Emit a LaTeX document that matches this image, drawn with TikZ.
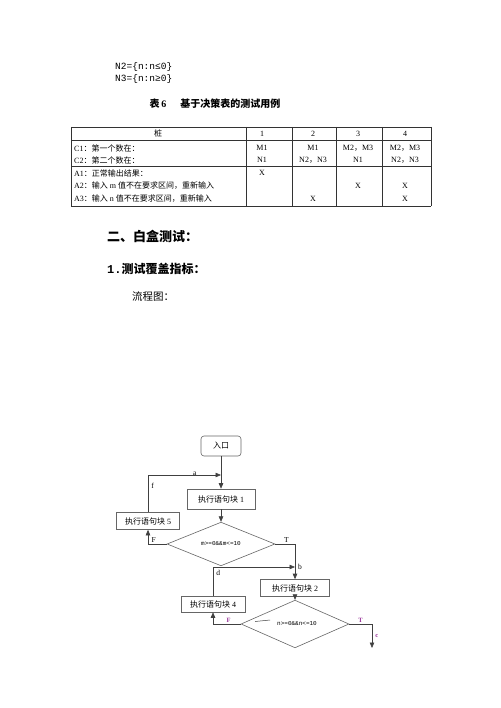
\documentclass[tikz,border=0pt]{standalone}
\usepackage{fontspec}
\setmainfont{Liberation Serif}
\setmonofont{Liberation Mono}
\newfontfamily\cjk{Noto Sans CJK SC}
\usepackage{xcolor}
\usetikzlibrary{shapes.geometric, arrows.meta, positioning}
\definecolor{linegray}{HTML}{404040}
\definecolor{boxgray}{HTML}{666666}
\definecolor{tfmagenta}{HTML}{993399}
\tikzset{
  tblcell/.style={
    inner sep=0pt, font=\fontsize{8}{9}\selectfont
  },
  tblrow/.style={
    tblcell, anchor=west
  },
  tblrule/.style={
    line width=0.6pt, color=black!80
  },
  flowbox/.style={
    draw=boxgray, line width=0.6pt, fill=white, inner sep=0pt,
    font=\fontsize{8}{9}\selectfont
  },
  flowentry/.style={
    flowbox, rounded corners=3pt, minimum width=40pt, minimum height=20pt
  },
  flowdecide/.style={
    diamond, draw=boxgray, line width=0.6pt, fill=white, inner sep=0pt,
    minimum width=108pt, minimum height=29pt,
    font=\ttfamily\fontsize{6}{7}\selectfont
  },
  flowarrow/.style={
    -{Triangle[length=5.5pt, width=4.5pt]}, draw=linegray, line width=0.6pt
  },
  flowlabel/.style={
    inner sep=1pt, font=\fontsize{7.5}{8}\selectfont
  },
  tflabel/.style={
    inner sep=1pt, text=tfmagenta, font=\bfseries\fontsize{6.5}{7}\selectfont
  },
}

\begin{document}
\begin{tikzpicture}[x=1pt, y=-1pt]
  \useasboundingbox (0,0) rectangle (500,708);

  % ── Sets N2, N3 ────────────────────────────────────────────────
  \node[anchor=west, inner sep=0pt, font=\ttfamily\fontsize{9.5}{10}\selectfont]
    (setN2) at (115,67) {N2=\{n:n≤0\}};
  \node[anchor=west, inner sep=0pt, font=\ttfamily\fontsize{9.5}{10}\selectfont]
    (setN3) at (115,79) {N3=\{n:n≥0\}};

  % ── Caption ────────────────────────────────────────────────────
  \node[inner sep=0pt, font=\cjk\bfseries\fontsize{10}{11}\selectfont]
    (caption) at (215,104) {表\,\textrm{\textbf{6}}\hspace{14pt}基于决策表的测试用例};

  % ── Decision table ─────────────────────────────────────────────
  \draw[tblrule, line width=0.9pt] (71,127) -- (431,127);
  \draw[tblrule] (71,140) -- (431,140);
  \draw[tblrule] (71,166) -- (431,166);
  \draw[tblrule, line width=0.9pt] (71,206) -- (431,206);
  \draw[tblrule] (71,127) -- (71,206);
  \draw[tblrule] (246,127) -- (246,206);
  \draw[tblrule] (292,127) -- (292,206);
  \draw[tblrule] (336,127) -- (336,206);
  \draw[tblrule] (382,127) -- (382,206);
  \draw[tblrule] (431,127) -- (431,206);

  % header
  \node[tblcell, font=\cjk\fontsize{8}{9}\selectfont] (hStub) at (158,133.5) {桩};
  \node[tblcell] (hOne) at (262,133.5) {1};
  \node[tblcell] (hTwo) at (313,133.5) {2};
  \node[tblcell] (hThree) at (358,133.5) {3};
  \node[tblcell] (hFour) at (405,133.5) {4};

  % conditions
  \node[tblrow] (rowC1) at (74,148) {C1{\cjk：第一个数在：}};
  \node[tblrow] (rowC2) at (74,160) {C2{\cjk：第二个数在：}};
  \node[tblcell] (c1One) at (262,148) {M1};
  \node[tblcell] (c1Two) at (313,148) {M1};
  \node[tblcell] (c1Three) at (358,148) {M2{\cjk，}M3};
  \node[tblcell] (c1Four) at (405,148) {M2{\cjk，}M3};
  \node[tblcell] (c2One) at (262,160) {N1};
  \node[tblcell] (c2Two) at (313,160) {N2{\cjk，}N3};
  \node[tblcell] (c2Three) at (358,160) {N1};
  \node[tblcell] (c2Four) at (405,160) {N2{\cjk，}N3};

  % actions
  \node[tblrow] (rowA1) at (74,173) {A1{\cjk：正常输出结果：}};
  \node[tblrow] (rowA2) at (74,186) {A2{\cjk：输入} m {\cjk 值不在要求区间，重新输入}};
  \node[tblrow] (rowA3) at (74,199) {A3{\cjk：输入} n {\cjk 值不在要求区间，重新输入}};
  \node[tblcell] (a1One) at (262,173) {X};
  \node[tblcell] (a2Three) at (358,186) {X};
  \node[tblcell] (a2Four) at (405,186) {X};
  \node[tblcell] (a3Two) at (313,199) {X};
  \node[tblcell] (a3Four) at (405,199) {X};

  % ── Headings ───────────────────────────────────────────────────
  \node[anchor=west, inner sep=0pt, font=\cjk\bfseries\fontsize{13}{14}\selectfont]
    (secTwo) at (107,236) {二、白盒测试：};
  \node[anchor=west, inner sep=0pt, font=\cjk\bfseries\fontsize{12}{13}\selectfont]
    (secCover) at (107,269) {\ttfamily\bfseries 1.\cjk\bfseries 测试覆盖指标：};
  \node[anchor=west, inner sep=0pt, font=\cjk\fontsize{10.5}{11}\selectfont]
    (flowTitle) at (132,297) {流程图：};

  % ── Flow chart ─────────────────────────────────────────────────
  \node[flowentry, font=\cjk\fontsize{8}{9}\selectfont] (entry) at (221,446) {入口};
  \node[flowbox, minimum width=68pt, minimum height=20pt] (block1) at (221,499)
    {{\cjk 执行语句块} 1};
  \node[flowdecide] (decideM) at (221,544) {m>=0\&\&m<=10};
  \node[flowbox, minimum width=63pt, minimum height=17pt] (block5) at (148,521)
    {{\cjk 执行语句块} 5};
  \node[flowbox, minimum width=69pt, minimum height=17pt] (block2) at (295,588)
    {{\cjk 执行语句块} 2};
  \node[flowdecide] (decideN) at (295,624) {\hspace{4pt}n>=0\&\&n<=10};
  \node[flowbox, minimum width=64pt, minimum height=16pt] (block4) at (213,604)
    {{\cjk 执行语句块} 4};

  \coordinate (mergeA) at (221,475);
  \coordinate (mergeB) at (295,567);
  \coordinate (exitC) at (372,648);

  % main path
  \draw[flowarrow] (entry) -- (block1);
  \draw[flowarrow] (block1) -- (decideM);
  \draw[flowarrow] (decideM.east) -| node[pos=0.28, above, flowlabel] {T} (block2.north);
  \draw[flowarrow] (block2) -- (decideN);
  \draw[flowarrow] (decideN.east) -| node[pos=0.25, above, tflabel] {T}
    node[pos=0.75, right=2pt, tflabel] {c} (exitC);

  % loop m
  \draw[flowarrow] (decideM.west) -| node[pos=0.35, above, flowlabel] {F} (block5.south);
  \draw[flowarrow] (block5.north) |- node[pos=0.35, right=2pt, flowlabel] {f}
    node[pos=0.82, flowlabel, above=-2pt] {a} (mergeA);

  % loop n
  \draw[flowarrow] (decideN.west) -| node[pos=0.22, above, tflabel] {F} (block4.south);
  \draw[flowarrow] (block4.north) |- node[pos=0.4, right=2pt, flowlabel] {d} (mergeB);
  \node[flowlabel, right=2pt] (labelB) at (mergeB) {b};
  \draw[linegray, line width=0.5pt] (255,621.5) -- (270,620);
\end{tikzpicture}
\end{document}
